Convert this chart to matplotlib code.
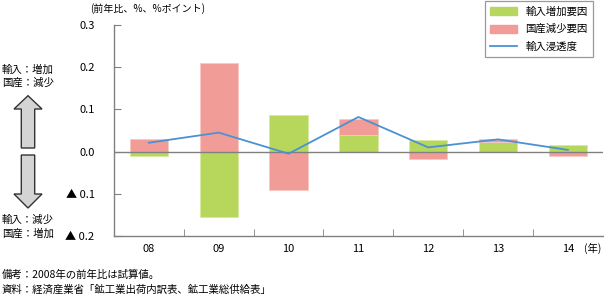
import numpy as np
import matplotlib
matplotlib.use("Agg")
import matplotlib.pyplot as plt
from matplotlib.patches import Polygon
from matplotlib.lines import Line2D
from matplotlib.patches import Patch

plt.rcParams['font.family'] = ['Noto Sans CJK JP', 'DejaVu Sans']

years = ['08', '09', '10', '11', '12', '13', '14']
import_up = [-0.0095, -0.156, 0.087, 0.040, 0.027, 0.022, 0.016]     # 輸入増加要因
domestic_down = [0.031, 0.210, -0.092, 0.038, -0.018, 0.008, -0.011]  # 国産減少要因
penetration = [0.021, 0.045, -0.005, 0.082, 0.010, 0.029, 0.004]      # 輸入浸透度
ytick_vals = [-0.2, -0.1, 0.0, 0.1, 0.2, 0.3]
ytick_labels = ['▲ 0.2', '▲ 0.1', '0.0', '0.1', '0.2', '0.3']

green = '#b7d65c'
red = '#f29c97'
blue = '#4a92d4'
gray = '#808080'

fig = plt.figure(figsize=(6.04, 2.97), dpi=100)
ax = fig.add_axes([114/604, 1-236/297, 1-114/604-0.002, (236-25)/297])

x = np.arange(len(years))
g = np.array(import_up)
r = np.array(domestic_down)
# stack positives and negatives separately, green first
g_bottom = np.zeros(len(x))
r_bottom = np.where((np.sign(r) == np.sign(g)), g, 0.0)
w = 0.55
ax.bar(x, g, w, bottom=g_bottom, color=green, edgecolor='#d8eaa0', linewidth=0.6, zorder=2)
ax.bar(x, r, w, bottom=r_bottom, color=red, edgecolor='#f8c8c5', linewidth=0.6, zorder=2)
ax.axhline(0, color=gray, lw=1.0, zorder=3)
ax.plot(x, penetration, color=blue, lw=1.3, zorder=4)

ax.set_xlim(-0.5, len(years) - 0.5)
ax.set_ylim(-0.2, 0.3)
ax.set_yticks(ytick_vals)
ax.set_yticklabels(ytick_labels, fontsize=8)
ax.set_xticks(x)
ax.set_xticklabels(years, fontsize=8)
ax.set_xticks(np.arange(len(years) - 1) + 0.5, minor=True)
ax.tick_params(axis='x', which='major', length=0, pad=6)
ax.tick_params(axis='x', which='minor', direction='in', length=5, color=gray)
ax.tick_params(axis='y', direction='in', length=5, color=gray, pad=14)
for s in ['top', 'right']:
    ax.spines[s].set_visible(False)
for s in ['left', 'bottom']:
    ax.spines[s].set_color(gray)
    ax.spines[s].set_linewidth(1.0)

handles = [Patch(color=green, label='輸入増加要因'),
           Patch(color=red, label='国産減少要因'),
           Line2D([0], [0], color=blue, lw=1.3, label='輸入浸透度')]
leg = fig.legend(handles=handles, loc='upper right', bbox_to_anchor=(594/604, 1.0),
                 fontsize=7.5, frameon=True, fancybox=False, edgecolor=gray,
                 handlelength=2.6, handleheight=0.8, borderpad=0.5, labelspacing=0.7,
                 borderaxespad=0.1)
leg.get_frame().set_linewidth(0.9)

# overlay in pixel coordinates for annotations
ov = fig.add_axes([0, 0, 1, 1], facecolor='none')
ov.set_xlim(0, 604)
ov.set_ylim(297, 0)
ov.axis('off')

ov.text(90, 9, '(前年比、%、%ポイント)', fontsize=7.2, va='center', ha='left')
ov.text(601, 248, '(年)', fontsize=7.5, va='center', ha='right')
ov.text(2, 70, '輸入：増加', fontsize=7.5, va='center')
ov.text(2, 83, '国産：減少', fontsize=7.5, va='center')
ov.text(2, 220, '輸入：減少', fontsize=7.5, va='center')
ov.text(2, 234, '国産：増加', fontsize=7.5, va='center')
ov.text(2, 275, '備考：2008年の前年比は試算値。', fontsize=7.5, va='center')
ov.text(2, 290, '資料：経済産業省「鉱工業出荷内訳表、鉱工業総供給表」', fontsize=7.5, va='center')

up = [(21.3, 148), (21.3, 109), (14, 109), (28, 95.7), (42, 109), (34.7, 109), (34.7, 148)]
down = [(21.3, 155), (21.3, 194), (14, 194), (28, 208), (42, 194), (34.7, 194), (34.7, 155)]
for pts in (up, down):
    ov.add_patch(Polygon(pts, closed=True, facecolor='#d4d4d4', edgecolor='#333333', lw=1.0))

fig.savefig('out.png', dpi=100)
